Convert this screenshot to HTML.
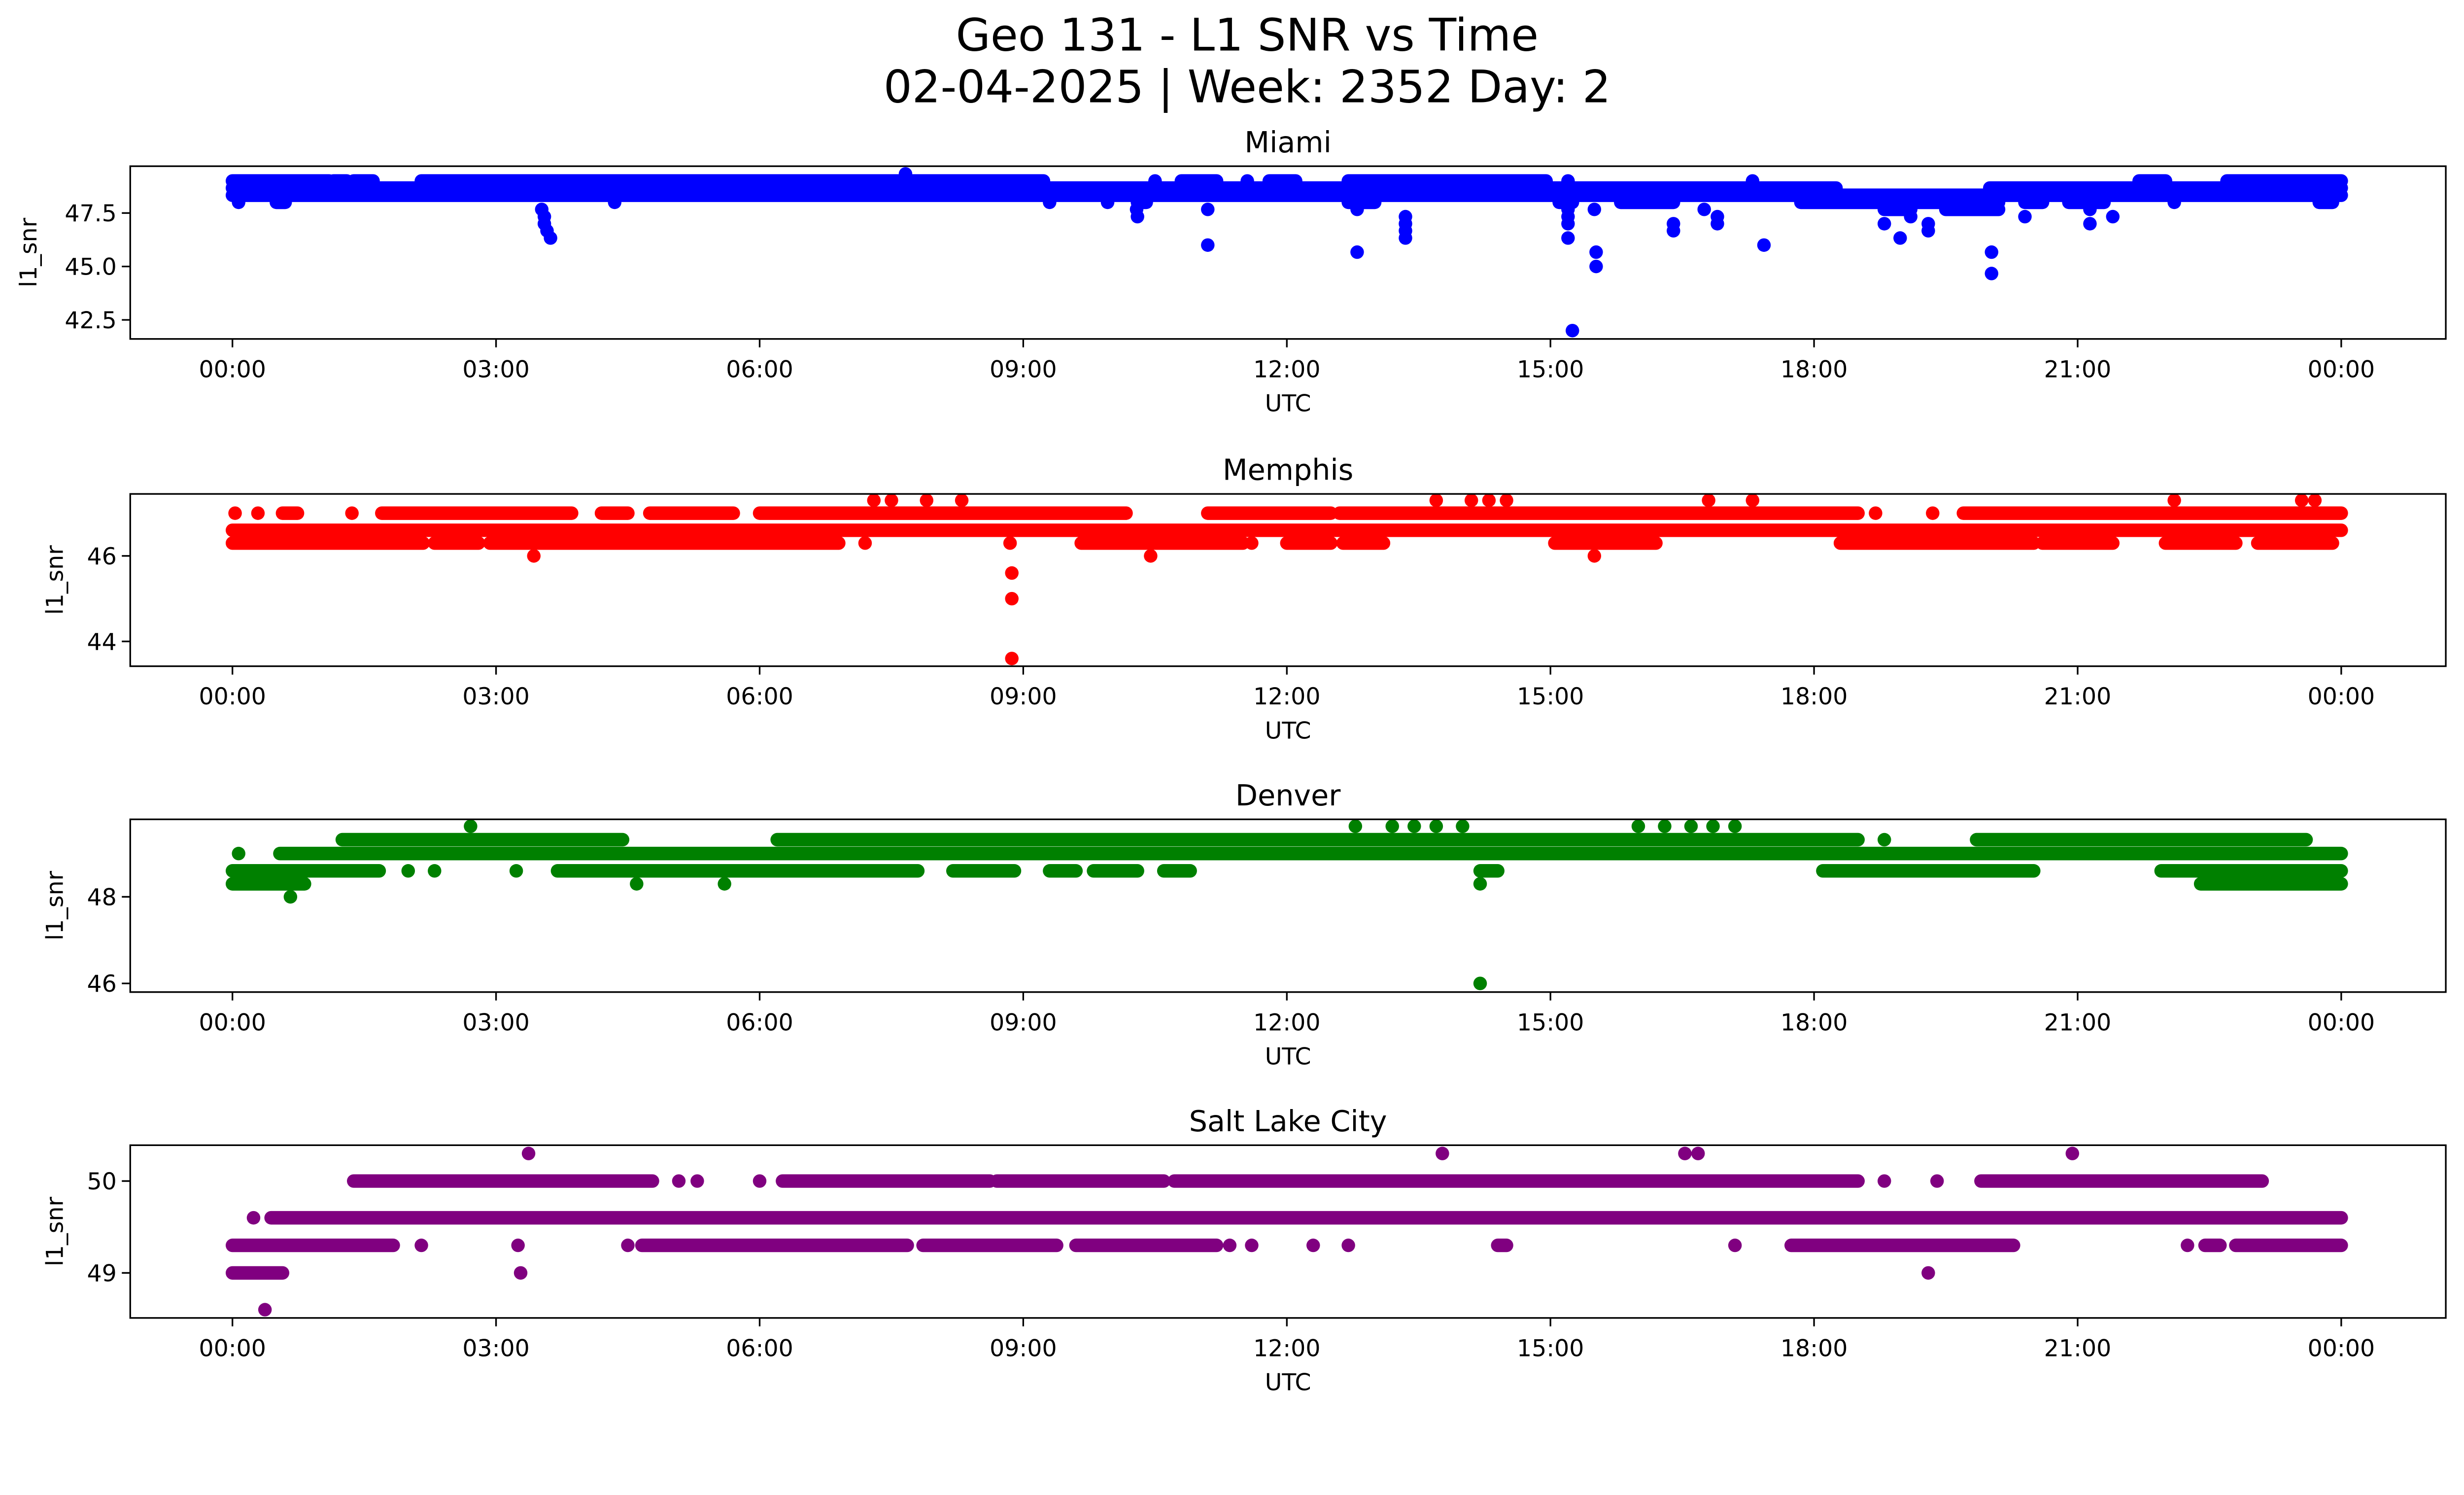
<!DOCTYPE html>
<html><head><meta charset="utf-8">
<style>
html,body{margin:0;padding:0;background:#fff;overflow:hidden;}
svg{display:block;width:100vw;height:calc(100vw * 3033 / 5279);}
text{font-family:"DejaVu Sans","Liberation Sans",sans-serif;fill:#000;}
</style></head>
<body>
<svg id="fig" xmlns="http://www.w3.org/2000/svg" viewBox="0 0 5279 3033" preserveAspectRatio="none">
<rect width="5279" height="3033" fill="#fff"/>
<text x="2672" y="108" font-size="96" text-anchor="middle">Geo 131 - L1 SNR vs Time</text>
<text x="2672" y="219" font-size="96" text-anchor="middle">02-04-2025 | Week: 2352 Day: 2</text>
<g id="panels"></g>
</svg>
<script>
// ---------- shared axis data ----------
const xTickHours = [0, 3, 6, 9, 12, 15, 18, 21, 24];
const xTickLabels = ["00:00","03:00","06:00","09:00","12:00","15:00","18:00","21:00","00:00"];

// ---------- Miami ----------
const miamiYTicks = [42.5, 45.0, 47.5];
const miamiYTickLabels = ["42.5","45.0","47.5"];
const miamiRuns = [
  [48.33,0,24],[48.67,0,18.25],[48.67,20.0,24],
  [49.0,0,1.1],[49.0,1.15,1.3],[49.0,1.38,1.6],[49.0,2.15,9.23],[49.0,10.5,10.5],[49.0,10.8,11.2],[49.0,11.55,11.55],[49.0,11.8,12.1],
  [49.0,12.7,14.95],[49.0,15.2,15.2],[49.0,17.3,17.3],[49.0,21.7,22.0],[49.0,22.7,24],
  [48.0,0.07,0.07],[48.0,0.5,0.6],[48.0,4.35,4.35],[48.0,9.3,9.3],[48.0,9.96,9.96],[48.0,10.3,10.4],
  [48.0,12.7,13.0],[48.0,15.1,15.25],[48.0,15.8,16.4],[48.0,17.85,20.1],[48.0,20.4,20.6],[48.0,20.9,21.3],[48.0,22.1,22.1],[48.0,23.75,23.9],
  [47.67,18.8,19.1],[47.67,19.5,20.1]
];
const miamiPoints = [
  [7.66,49.33],[3.52,47.67],[3.55,47.33],[3.55,47.0],[3.58,46.67],[3.62,46.33],
  [10.29,47.67],[10.3,47.33],[11.1,47.67],[11.1,46.0],[12.8,47.67],[12.8,45.67],
  [13.35,47.33],[13.35,47.0],[13.35,46.67],[13.35,46.33],[15.2,47.67],[15.2,47.33],
  [15.2,47.0],[15.2,46.33],[15.25,42.0],[15.5,47.67],[15.52,45.67],[15.52,45.0],
  [16.4,47.0],[16.4,46.67],[16.75,47.67],[16.9,47.0],[16.9,47.33],[17.43,46.0],
  [18.8,47.0],[18.98,46.33],[19.1,47.33],[19.3,46.67],[19.3,47.0],[20.02,45.67],
  [20.02,44.67],[20.4,47.33],[21.14,47.67],[21.14,47.0],[21.4,47.33]
];

// ---------- Memphis ----------
const memphisYTicks = [44, 46];
const memphisYTickLabels = ["44","46"];
const memphisRuns = [
  [46.6,0,24],
  [46.3,0,2.17],[46.3,2.3,2.8],[46.3,2.93,6.9],[46.3,7.2,7.2],[46.3,8.85,8.85],[46.3,9.66,11.5],[46.3,11.6,11.6],[46.3,12.0,12.5],[46.3,12.64,13.1],
  [46.3,15.05,16.2],[46.3,18.3,20.5],[46.3,20.6,21.4],[46.3,22.0,22.8],[46.3,23.05,23.9],
  [47.0,0.03,0.03],[47.0,0.29,0.29],[47.0,0.57,0.74],[47.0,1.36,1.36],[47.0,1.7,3.86],[47.0,4.2,4.5],[47.0,4.75,5.7],
  [47.0,6.0,10.17],[47.0,11.1,12.5],[47.0,12.6,18.5],[47.0,18.7,18.7],[47.0,19.35,19.35],[47.0,19.7,24]
];
const memphisPoints = [
  [7.3,47.3],[7.5,47.3],[7.9,47.3],[8.3,47.3],[13.7,47.3],[14.1,47.3],[14.3,47.3],[14.5,47.3],
  [16.8,47.3],[17.3,47.3],[22.1,47.3],[23.55,47.3],[23.7,47.3],
  [3.43,46.0],[10.45,46.0],[15.5,46.0],[8.87,45.6],[8.87,45.0],[8.87,43.6]
];

// ---------- Denver ----------
const denverYTicks = [46, 48];
const denverYTickLabels = ["46","48"];
const denverRuns = [
  [49.0,0.07,0.07],[49.0,0.54,24],
  [49.32,1.25,4.44],[49.32,6.2,18.5],[49.32,18.8,18.8],[49.32,19.85,23.6],
  [48.6,0,1.67],[48.6,2.0,2.0],[48.6,2.3,2.3],[48.6,3.23,3.23],[48.6,3.7,7.8],[48.6,8.2,8.9],[48.6,9.3,9.6],[48.6,9.8,10.3],[48.6,10.6,10.9],
  [48.6,14.2,14.4],[48.6,18.1,20.5],[48.6,21.95,24],
  [48.3,0,0.82],[48.3,22.4,24]
];
const denverPoints = [
  [2.71,49.63],[12.78,49.63],[13.2,49.63],[13.45,49.63],[13.7,49.63],[14.0,49.63],
  [16.0,49.63],[16.3,49.63],[16.6,49.63],[16.85,49.63],[17.1,49.63],
  [4.6,48.3],[5.6,48.3],[14.2,48.3],[0.66,48.0],[14.2,46.0]
];

// ---------- Salt Lake City ----------
const slcYTicks = [49, 50];
const slcYTickLabels = ["49","50"];
const slcRuns = [
  [49.6,0.24,0.24],[49.6,0.44,24],
  [50.0,1.38,4.78],[50.0,5.08,5.08],[50.0,5.29,5.29],[50.0,6.0,6.0],[50.0,6.26,8.62],[50.0,8.7,10.6],[50.0,10.72,18.5],
  [50.0,18.8,18.8],[50.0,19.4,19.4],[50.0,19.9,23.1],
  [49.3,0,1.83],[49.3,2.15,2.15],[49.3,3.25,3.25],[49.3,4.5,4.5],[49.3,4.66,7.68],[49.3,7.86,9.38],[49.3,9.6,11.2],
  [49.3,11.35,11.35],[49.3,11.6,11.6],[49.3,12.3,12.3],[49.3,12.7,12.7],[49.3,14.4,14.5],[49.3,17.1,17.1],
  [49.3,17.74,20.27],[49.3,22.25,22.25],[49.3,22.45,22.62],[49.3,22.8,24],
  [49.0,0,0.57]
];
const slcPoints = [
  [3.37,50.3],[13.77,50.3],[16.53,50.3],[16.68,50.3],[20.94,50.3],
  [3.28,49.0],[19.3,49.0],[0.37,48.6]
];

// ---------- layout ----------
const X0 = 279, X1 = 5240, XH0 = 498, XH24 = 5016;
const R = 14.5;
const NS = "http://www.w3.org/2000/svg";
const panelsG = document.getElementById("panels");
function xScale(h){ return XH0 + (XH24 - XH0) * h / 24; }
function mk(tag, attrs, parent){
  const e = document.createElementNS(NS, tag);
  for (const k in attrs) e.setAttribute(k, attrs[k]);
  parent.appendChild(e);
  return e;
}

const panels = [
  {key:"miami", title:"Miami", color:"#0000ff", top:356, bottom:726, ymin:41.61, ymax:49.69, yt:miamiYTicks, ytl:miamiYTickLabels, runs:miamiRuns, pts:miamiPoints, ylx:62},
  {key:"memphis", title:"Memphis", color:"#ff0000", top:1058, bottom:1427, ymin:43.42, ymax:47.45, yt:memphisYTicks, ytl:memphisYTickLabels, runs:memphisRuns, pts:memphisPoints, ylx:118},
  {key:"denver", title:"Denver", color:"#008000", top:1755, bottom:2125, ymin:45.8, ymax:49.79, yt:denverYTicks, ytl:denverYTickLabels, runs:denverRuns, pts:denverPoints, ylx:118},
  {key:"salt-lake-city", title:"Salt Lake City", color:"#800080", top:2453, bottom:2823, ymin:48.51, ymax:50.39, yt:slcYTicks, ytl:slcYTickLabels, runs:slcRuns, pts:slcPoints, ylx:118}
];

panels.forEach(p => {
  const g = mk("g", {}, panelsG);
  
  
  const yScale = v => p.bottom - (v - p.ymin) / (p.ymax - p.ymin) * (p.bottom - p.top);

  const t = mk("text", {x:(X0+X1)/2, y:p.top-30, "font-size":62, "text-anchor":"middle"}, g);
  t.textContent = p.title;
  
  

  const marks = mk("g", {fill:p.color, stroke:p.color}, g);
  
  
  p.runs.forEach(r => {
    const y = yScale(r[0]);
    const ln = mk("line", {x1:xScale(r[1]), x2:xScale(r[2]) + 0.01, y1:y, y2:y, "stroke-width":2*R, "stroke-linecap":"round"}, marks);
    
    
  });
  p.pts.forEach(pt => {
    const c = mk("circle", {cx:xScale(pt[0]), cy:yScale(pt[1]), r:R, stroke:"none"}, marks);
    
    
  });

  const frame = mk("rect", {x:X0, y:p.top, width:X1-X0, height:p.bottom-p.top, fill:"none", stroke:"#000", "stroke-width":3.5}, g);
  
  

  xTickHours.forEach((h, i) => {
    const x = xScale(h);
    const tk = mk("line", {x1:x, x2:x, y1:p.bottom, y2:p.bottom+18, stroke:"#000", "stroke-width":3.5}, g);
    
    
    const tl = mk("text", {x:x, y:p.bottom+82, "font-size":50, "text-anchor":"middle"}, g);
    tl.textContent = xTickLabels[i];
    
    
  });
  p.yt.forEach((v, i) => {
    const y = yScale(v);
    const tk = mk("line", {x1:X0-18, x2:X0, y1:y, y2:y, stroke:"#000", "stroke-width":3.5}, g);
    
    
    const tl = mk("text", {x:250, y:y+18, "font-size":50, "text-anchor":"end"}, g);
    tl.textContent = p.ytl[i];
    
    
  });
  const xl = mk("text", {x:(X0+X1)/2, y:p.bottom+155, "font-size":50, "text-anchor":"middle"}, g);
  xl.textContent = "UTC";
  
  
  const cy = (p.top + p.bottom) / 2;
  const yl = mk("text", {x:p.ylx, y:cy, "font-size":50, "text-anchor":"middle", "dominant-baseline":"central", transform:"rotate(-90 " + p.ylx + " " + cy + ")"}, g);
  yl.textContent = "l1_snr";
  
  
});
</script>
</body></html>
